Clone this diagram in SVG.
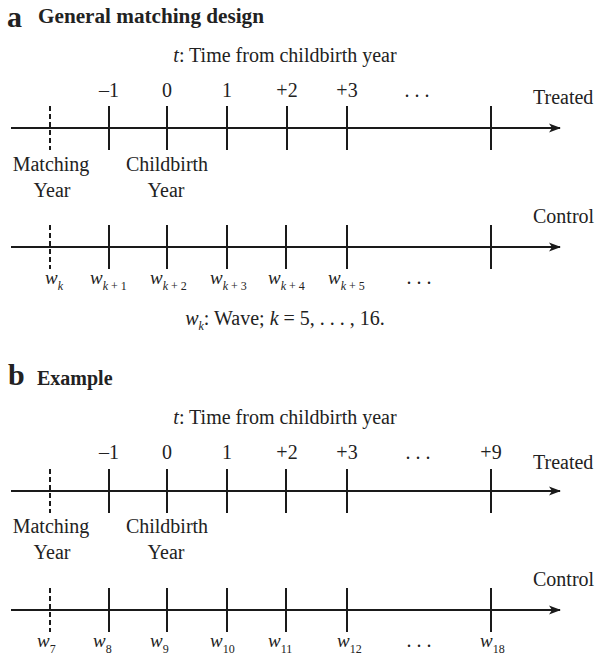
<svg xmlns="http://www.w3.org/2000/svg" width="596" height="657" viewBox="0 0 596 657" font-family="'Times New Roman', 'Liberation Serif', serif">
<defs>
<style>
text, tspan{font-family:'Times New Roman','Liberation Serif',serif;fill:#222;}
.t{font-size:20px;}
.num{font-size:20px;text-anchor:middle;}
.lab{font-size:20px;text-anchor:middle;}
.big{font-size:30px;font-weight:bold;}
.head{font-size:20px;font-weight:bold;}
.w{font-size:19px;font-style:italic;}
.sub{font-size:12px;}
.it{font-style:italic;}
.axis{stroke:#1a1a1a;stroke-width:2.2;fill:none;}
.tick{stroke:#1a1a1a;stroke-width:2;}
.dash{stroke:#1a1a1a;stroke-width:2;stroke-dasharray:5 3;}
.dots{font-size:20px;text-anchor:middle;}
</style>
<marker id="arr" viewBox="0 0 12 10" refX="11" refY="5" markerWidth="12" markerHeight="10" markerUnits="userSpaceOnUse" orient="auto">
<path d="M12,5 L0,0.5 L3,5 L0,9.5 Z" fill="#1a1a1a"/>
</marker>
</defs>

<!-- Panel a -->
<g id="title-a">
<text class="big" x="7" y="27">a</text>
<text class="head" x="38" y="23" textLength="226" lengthAdjust="spacingAndGlyphs">General matching design</text>
</g>
<g id="time-label-a"><text class="t" x="285" y="62" text-anchor="middle"><tspan class="it">t</tspan>: Time from childbirth year</text></g>

<g id="connectors">
<line class="axis" x1="11" y1="128" x2="560" y2="128" marker-end="url(#arr)"/>
<line class="axis" x1="11" y1="247" x2="560" y2="247" marker-end="url(#arr)"/>
<line class="axis" x1="11" y1="491" x2="560" y2="491" marker-end="url(#arr)"/>
<line class="axis" x1="11" y1="610" x2="560" y2="610" marker-end="url(#arr)"/>
</g>

<g id="treated-a">
<line class="dash" x1="50" y1="106" x2="50" y2="150"/>
<line class="tick" x1="109" y1="106" x2="109" y2="150"/>
<line class="tick" x1="167" y1="106" x2="167" y2="150"/>
<line class="tick" x1="227" y1="106" x2="227" y2="150"/>
<line class="tick" x1="287" y1="106" x2="287" y2="150"/>
<line class="tick" x1="347" y1="106" x2="347" y2="150"/>
<line class="tick" x1="491" y1="106" x2="491" y2="150"/>
<text class="num" x="109" y="97">–1</text>
<text class="num" x="167" y="97">0</text>
<text class="num" x="227" y="97">1</text>
<text class="num" x="287" y="97">+2</text>
<text class="num" x="347" y="97">+3</text>
<text class="dots" x="417" y="97">. . .</text>
<text class="t" x="533" y="104">Treated</text>
<text class="lab" x="51" y="171">Matching</text>
<text class="lab" x="52" y="197">Year</text>
<text class="lab" x="167" y="171">Childbirth</text>
<text class="lab" x="166" y="197">Year</text>
</g>

<g id="control-a">
<line class="dash" x1="50" y1="225" x2="50" y2="269"/>
<line class="tick" x1="109" y1="225" x2="109" y2="269"/>
<line class="tick" x1="167" y1="225" x2="167" y2="269"/>
<line class="tick" x1="227" y1="225" x2="227" y2="269"/>
<line class="tick" x1="286" y1="225" x2="286" y2="269"/>
<line class="tick" x1="347" y1="225" x2="347" y2="269"/>
<line class="tick" x1="491" y1="225" x2="491" y2="269"/>
<text class="t" x="533" y="223">Control</text>
<text x="45" y="284"><tspan class="w">w</tspan><tspan class="sub it" dy="6">k</tspan></text>
<text x="90" y="284"><tspan class="w">w</tspan><tspan class="sub" dy="6"><tspan class="it">k</tspan> + 1</tspan></text>
<text x="150" y="284"><tspan class="w">w</tspan><tspan class="sub" dy="6"><tspan class="it">k</tspan> + 2</tspan></text>
<text x="210" y="284"><tspan class="w">w</tspan><tspan class="sub" dy="6"><tspan class="it">k</tspan> + 3</tspan></text>
<text x="268" y="284"><tspan class="w">w</tspan><tspan class="sub" dy="6"><tspan class="it">k</tspan> + 4</tspan></text>
<text x="328" y="284"><tspan class="w">w</tspan><tspan class="sub" dy="6"><tspan class="it">k</tspan> + 5</tspan></text>
<text class="dots" x="419" y="284">. . .</text>
</g>

<g id="legend-a">
<text class="t" x="285" y="325" text-anchor="middle"><tspan class="it">w</tspan><tspan class="sub it" dy="5">k</tspan><tspan dy="-5">: Wave; </tspan><tspan class="it">k</tspan> = 5, . . . , 16.</text>
</g>

<!-- Panel b -->
<g id="title-b">
<text class="big" x="8" y="385">b</text>
<text class="head" x="37" y="385">Example</text>
</g>
<g id="time-label-b"><text class="t" x="285" y="424" text-anchor="middle"><tspan class="it">t</tspan>: Time from childbirth year</text></g>

<g id="treated-b">
<line class="dash" x1="50" y1="469" x2="50" y2="513"/>
<line class="tick" x1="109" y1="469" x2="109" y2="513"/>
<line class="tick" x1="167" y1="469" x2="167" y2="513"/>
<line class="tick" x1="227" y1="469" x2="227" y2="513"/>
<line class="tick" x1="286" y1="469" x2="286" y2="513"/>
<line class="tick" x1="347" y1="469" x2="347" y2="513"/>
<line class="tick" x1="491" y1="469" x2="491" y2="513"/>
<text class="num" x="109" y="459">–1</text>
<text class="num" x="167" y="459">0</text>
<text class="num" x="227" y="459">1</text>
<text class="num" x="287" y="459">+2</text>
<text class="num" x="347" y="459">+3</text>
<text class="dots" x="418" y="459">. . .</text>
<text class="num" x="491" y="459">+9</text>
<text class="t" x="533" y="469">Treated</text>
<text class="lab" x="51" y="533">Matching</text>
<text class="lab" x="52" y="559">Year</text>
<text class="lab" x="167" y="533">Childbirth</text>
<text class="lab" x="166" y="559">Year</text>
</g>

<g id="control-b">
<line class="dash" x1="50" y1="588" x2="50" y2="632"/>
<line class="tick" x1="109" y1="588" x2="109" y2="632"/>
<line class="tick" x1="167" y1="588" x2="167" y2="632"/>
<line class="tick" x1="227" y1="588" x2="227" y2="632"/>
<line class="tick" x1="286" y1="588" x2="286" y2="632"/>
<line class="tick" x1="347" y1="588" x2="347" y2="632"/>
<line class="tick" x1="491" y1="588" x2="491" y2="632"/>
<text class="t" x="533" y="586">Control</text>
<text x="37" y="647"><tspan class="w">w</tspan><tspan class="sub" dy="6">7</tspan></text>
<text x="93" y="647"><tspan class="w">w</tspan><tspan class="sub" dy="6">8</tspan></text>
<text x="150" y="647"><tspan class="w">w</tspan><tspan class="sub" dy="6">9</tspan></text>
<text x="210" y="647"><tspan class="w">w</tspan><tspan class="sub" dy="6">10</tspan></text>
<text x="268" y="647"><tspan class="w">w</tspan><tspan class="sub" dy="6">11</tspan></text>
<text x="337" y="647"><tspan class="w">w</tspan><tspan class="sub" dy="6">12</tspan></text>
<text class="dots" x="419" y="647">. . .</text>
<text x="480" y="647"><tspan class="w">w</tspan><tspan class="sub" dy="6">18</tspan></text>
</g>
</svg>
